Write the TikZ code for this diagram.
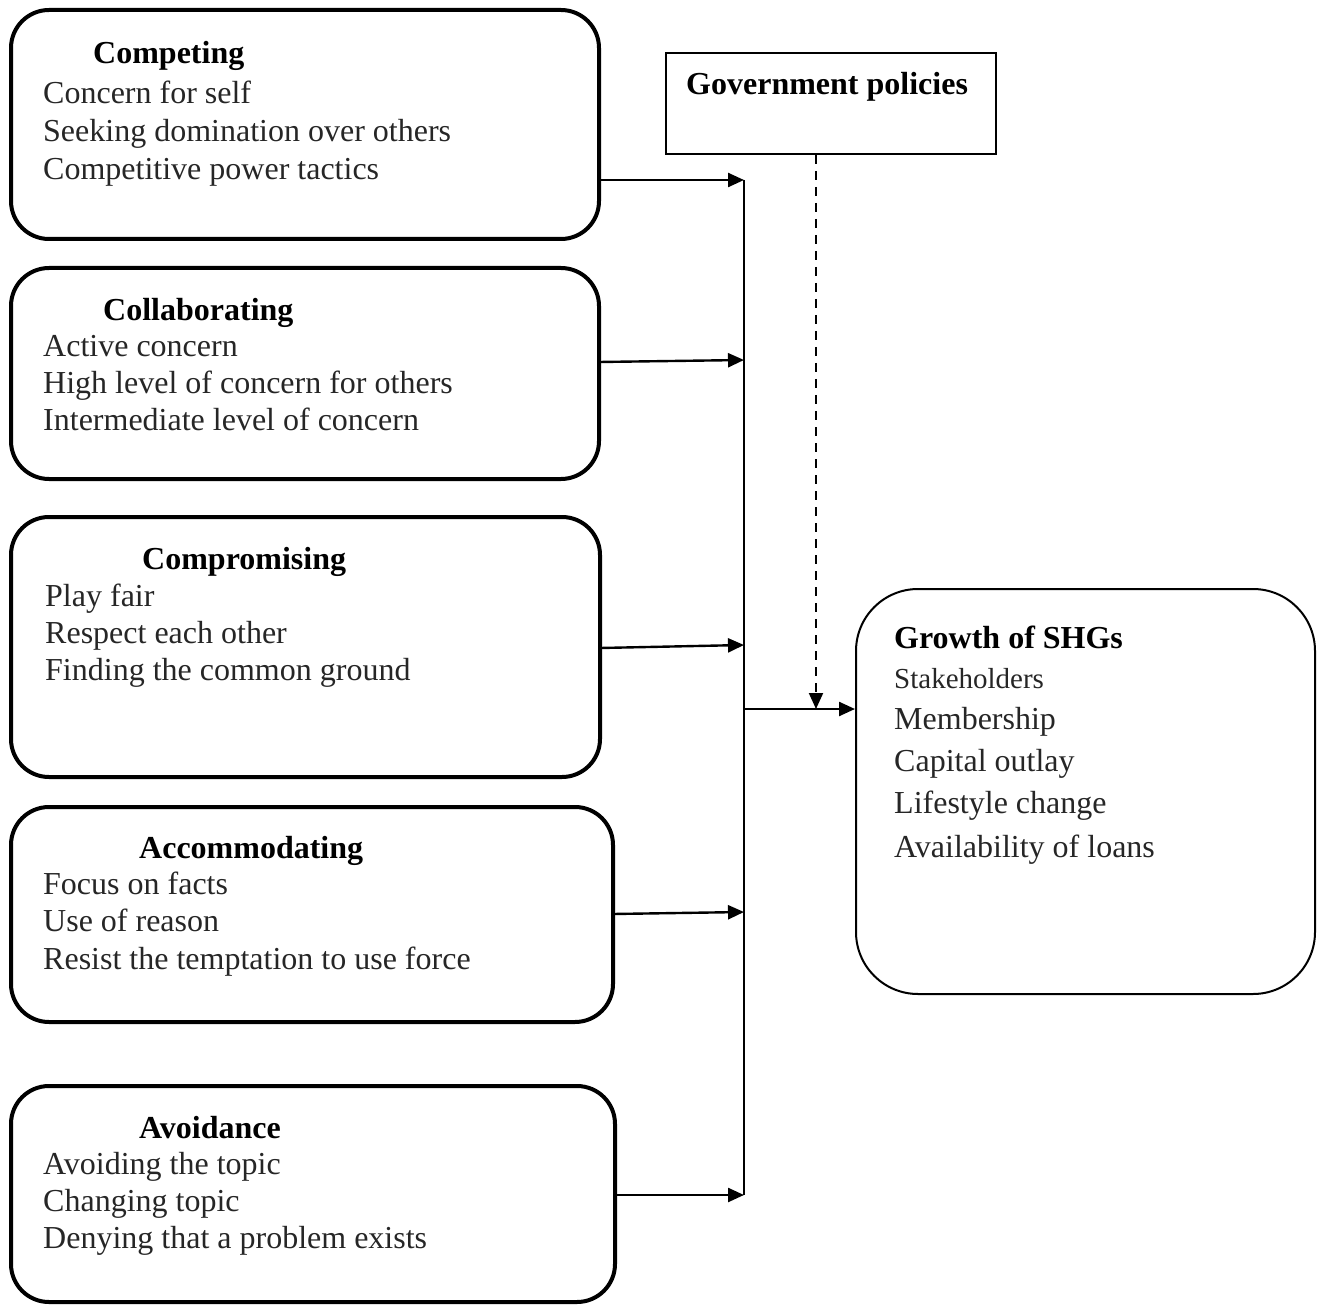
\documentclass[tikz,border=0pt]{standalone}
\usepackage{fontspec}
\setmainfont{Liberation Serif}
\usetikzlibrary{arrows.meta}
\begin{document}
\begin{tikzpicture}[x=1pt,y=-1pt,
  sbox/.style={draw,line width=4pt,rounded corners=38pt,inner sep=0pt},
  gbox/.style={draw,line width=2pt,inner sep=0pt},
  growbox/.style={draw,line width=2pt,rounded corners=62pt,inner sep=0pt},
  hd/.style={anchor=base west,inner sep=0pt,yshift=-2.5pt,font=\fontsize{32}{37}\selectfont\bfseries},
  tx/.style={anchor=base west,inner sep=0pt,yshift=-2.5pt,font=\fontsize{32}{37}\selectfont,text=black!85},
  txs/.style={anchor=base west,inner sep=0pt,yshift=-2.5pt,font=\fontsize{29}{34}\selectfont,text=black!85},
  arr/.style={line width=2.4pt,-{Triangle[length=16pt,width=14pt]}},
  dasharr/.style={line width=2pt,dash pattern=on 9pt off 7pt,-{Triangle[length=16pt,width=14pt]}}]
\useasboundingbox (0,0) rectangle (1320,1305);
% boxes
\node[sbox,minimum width=588pt,minimum height=229pt] (b1) at (305,124.5) {};
\node[sbox,minimum width=588pt,minimum height=211pt] (b2) at (305,373.5) {};
\node[sbox,minimum width=589pt,minimum height=260pt] (b3) at (305.5,647) {};
\node[sbox,minimum width=602pt,minimum height=215pt] (b4) at (312,914.5) {};
\node[sbox,minimum width=604pt,minimum height=216pt] (b5) at (313,1194) {};
\node[gbox,minimum width=330pt,minimum height=101pt] (gov) at (831,103.5) {};
\node[growbox,minimum width=459pt,minimum height=405pt] (grow) at (1085.5,791.5) {};
% texts
\node[hd] (t1h) at (93,61) {Competing};
\node[tx] (t1a) at (43,101) {Concern for self};
\node[tx] (t1b) at (43,139) {Seeking domination over others};
\node[tx] (t1c) at (43,177) {Competitive power tactics};
\node[hd] (t2h) at (103,318) {Collaborating};
\node[tx] (t2a) at (43,354) {Active concern};
\node[tx] (t2b) at (43,391) {High level of concern for others};
\node[tx] (t2c) at (43,428) {Intermediate level of concern};
\node[hd] (t3h) at (142,567) {Compromising};
\node[tx] (t3a) at (45,604) {Play fair};
\node[tx] (t3b) at (45,641) {Respect each other};
\node[tx] (t3c) at (45,678) {Finding the common ground};
\node[hd] (t4h) at (139,856) {Accommodating};
\node[tx] (t4a) at (43,892) {Focus on facts};
\node[tx] (t4b) at (43,929) {Use of reason};
\node[tx] (t4c) at (43,967) {Resist the temptation to use force};
\node[hd] (t5h) at (139,1136) {Avoidance};
\node[tx] (t5a) at (43,1172) {Avoiding the topic};
\node[tx] (t5b) at (43,1209) {Changing topic};
\node[tx] (t5c) at (43,1246) {Denying that a problem exists};
\node[hd] (tg) at (686,92) {Government policies};
\node[hd] (th) at (894,646) {Growth of SHGs};
\node[txs] (ha) at (894,686) {Stakeholders};
\node[tx] (hb) at (894,727) {Membership};
\node[tx] (hc) at (894,769) {Capital outlay};
\node[tx] (hd1) at (894,811) {Lifestyle change};
\node[tx] (he) at (894,855) {Availability of loans};
% connectors
\coordinate (j1) at (744,180);
\coordinate (j2) at (744,360);
\coordinate (j3) at (744,645);
\coordinate (j4) at (744,912);
\coordinate (j5) at (744,1195);
\coordinate (jm) at (744,709);
\coordinate (s1) at (599,180);
\coordinate (s2) at (599,362);
\coordinate (s3) at (600,648);
\coordinate (s4) at (613,914);
\coordinate (s5) at (615,1195);
\draw[line width=2pt] (j1) -- (j5);
\draw[arr] (s1) -- (j1);
\draw[arr] (s2) -- (j2);
\draw[arr] (s3) -- (j3);
\draw[arr] (s4) -- (j4);
\draw[arr] (s5) -- (j5);
\draw[arr] (jm) -- (jm -| grow.west);
\coordinate (dj) at (816,709);
\draw[dasharr] (gov.south -| dj) -- (dj);
\end{tikzpicture}
\end{document}
